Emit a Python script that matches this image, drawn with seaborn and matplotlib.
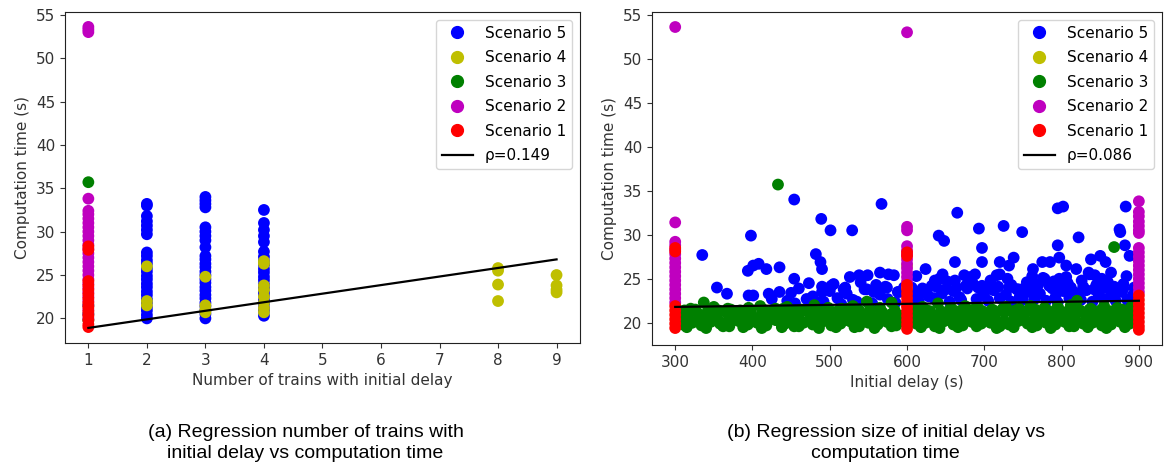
import matplotlib
matplotlib.use("Agg")
import matplotlib.pyplot as plt
import seaborn as sns
import pandas as pd
from matplotlib.lines import Line2D

# ---------------- Left panel data: number of trains vs computation time ----------------
a_s5_x = [2]*25 + [3]*26 + [4]*22
a_s5_y = [20.0, 20.4, 20.9, 21.3, 21.8, 22.2, 22.7, 23.1, 23.6, 24.0, 24.5, 24.9, 25.4, 25.8, 26.3, 26.7, 27.2, 27.6, 29.7, 30.2, 30.7, 31.2, 31.8, 33.0, 33.2,
          20.0, 20.5, 20.9, 21.4, 21.8, 22.3, 22.7, 23.2, 23.6, 24.1, 24.5, 25.0, 25.4, 25.9, 26.3, 26.8, 27.2, 28.2, 29.0, 29.5, 30.0, 30.5, 32.8, 33.2, 33.6, 34.0,
          20.3, 20.8, 21.2, 21.7, 22.1, 22.6, 23.0, 23.5, 23.9, 24.4, 24.8, 25.3, 25.7, 26.2, 26.6, 27.1, 27.7, 28.8, 29.5, 30.2, 31.0, 32.5]
a_s4_x = [2]*3 + [3]*4 + [4]*8 + [8]*4 + [9]*4
a_s4_y = [26.0, 22.0, 21.5,
          24.8, 21.5, 21.0, 20.7,
          26.3, 26.6, 23.8, 23.3, 22.5, 21.8, 21.2, 20.7,
          25.8, 25.5, 23.9, 22.0,
          25.0, 23.8, 23.3, 23.0]
a_s3_x = [1]*4
a_s3_y = [35.7, 21.5, 20.5, 19.8]
a_s2_x = [1]*30
a_s2_y = [53.6, 53.3, 53.0, 33.8, 32.4, 32.0, 31.5, 31.0, 30.5, 30.0, 29.5, 29.0, 28.5, 28.0, 27.5,
          27.0, 26.5, 26.0, 25.5, 25.0, 24.5, 24.0, 23.5, 23.0, 22.5, 22.0, 21.5, 21.0, 20.5, 20.0]
a_s1_x = [1]*14
a_s1_y = [28.3, 27.9, 24.3, 23.8, 23.3, 22.8, 22.3, 21.8, 21.3, 20.8, 20.3, 19.8, 19.3, 19.0]
a_reg_x = [1, 9]
a_reg_y = [18.9, 26.8]
a_rho = "ρ=0.149"

# ---------------- Right panel data: initial delay vs computation time ----------------
b_s5_x = [335, 354, 367, 398, 394, 401, 408, 418, 395, 401, 421, 435, 435, 454, 454, 473, 482, 488, 489, 490,
          501, 502, 490, 529, 526, 538, 549, 518, 567, 565, 576, 583, 574, 588, 557, 624, 617, 610, 641, 648,
          646, 636, 665, 662, 662, 674, 688, 693, 697, 697, 697, 725, 720, 738, 732, 720, 749, 763, 775, 785,
          795, 797, 795, 802, 822, 806, 819, 838, 850, 857, 864, 875, 876, 883, 882, 888, 843, 835, 797, 778,
          766, 749,
          445, 470, 492, 510, 530, 550, 575, 615, 635, 655, 670, 690, 705, 720, 735, 750, 765, 780, 795, 810,
          825, 840, 855, 870, 885,
          450, 478, 500, 522, 545, 565, 590, 625, 645, 660, 678, 700, 712, 728, 742, 758, 772, 788, 802, 818,
          832, 848, 862, 878, 892,
          505, 540, 560, 632, 652, 685, 708, 735, 755, 770, 790, 808, 826, 845, 860, 880, 425, 880,
          612, 628, 642, 668, 682, 698, 716, 730, 746, 762, 776, 792, 806, 822, 836, 852, 866, 884,
          455, 485, 515, 535, 555, 585,
          606, 620, 638, 650, 664, 676, 692, 704, 718, 732, 744, 756, 768, 784, 798, 812, 828, 842, 856, 868,
          880, 894, 460, 490, 520, 548, 572, 596]
b_s5_y = [27.7, 24.0, 23.3, 29.9, 25.9, 26.5, 26.7, 26.1, 23.1, 23.1, 23.3, 26.3, 23.5, 34.0, 25.0, 24.5, 27.8, 26.9, 31.8, 26.1,
          30.5, 24.2, 23.5, 30.5, 25.2, 25.4, 25.4, 23.8, 33.5, 25.7, 25.5, 25.4, 24.0, 23.5, 23.5, 26.1, 23.5, 22.9, 29.9, 29.3,
          25.5, 24.8, 32.5, 26.9, 24.8, 25.4, 25.5, 30.7, 28.5, 26.9, 24.2, 31.0, 26.9, 27.4, 26.5, 25.5, 30.3, 26.1, 26.9, 26.9,
          28.8, 27.4, 33.0, 33.2, 29.7, 26.5, 26.1, 27.2, 27.6, 26.9, 25.7, 30.6, 30.3, 33.2, 28.8, 27.6, 25.4, 25.7, 25.0, 25.0,
          24.2, 23.8,
          22.5, 22.7, 22.4, 22.8, 22.6, 22.3, 22.7, 22.5, 22.8, 22.4, 22.6, 22.7, 22.5, 22.8, 22.4, 22.6, 22.7, 22.5, 22.3, 22.8,
          22.6, 22.4, 22.7, 22.5, 22.6,
          23.4, 23.0, 23.6, 23.3, 23.8, 23.2, 23.5, 23.7, 23.3, 23.6, 23.9, 23.4, 23.7, 23.2, 23.8, 23.5, 23.3, 23.9, 23.6, 23.4,
          23.7, 23.2, 23.8, 23.5, 23.1,
          24.4, 24.6, 24.3, 24.2, 24.7, 24.5, 24.8, 24.3, 24.6, 24.4, 24.7, 24.5, 24.8, 24.3, 24.6, 24.4, 22.7, 20.4,
          25.3, 23.0, 25.0, 22.9, 25.2, 23.1, 25.4, 25.0, 23.0, 25.3, 25.1, 22.9, 25.2, 23.0, 25.5, 25.0, 23.1, 25.3,
          22.2, 22.3, 22.1, 22.4, 22.2, 22.3,
          24.0, 23.9, 24.1, 23.8, 24.0, 24.2, 24.0, 23.9, 24.1, 24.0, 23.8, 24.1, 24.0, 24.2, 23.9, 24.0, 24.1, 23.8, 24.0, 24.1,
          23.9, 24.0, 23.9, 24.1, 24.0, 23.8, 24.1, 24.0]
b_s4_x = [600, 600, 600]
b_s4_y = [26.5, 24.0, 22.0]
b_s3_x = [310, 322, 334, 346, 358, 370, 382, 394, 406, 418, 430, 442, 454, 466, 478, 490, 502, 514, 526, 538,
          550, 562, 574, 586, 612, 624, 636, 648, 660, 672, 684, 696, 708, 720, 732, 744, 756, 768, 780, 792,
          804, 816, 828, 840, 852, 864, 876, 888,
          316, 328, 340, 352, 364, 376, 388, 400, 412, 424, 436, 448, 460, 472, 484, 496, 508, 520, 532, 544,
          556, 568, 580, 592, 606, 618, 630, 642, 654, 666, 678, 690, 702, 714, 726, 738, 750, 762, 774, 786,
          798, 810, 822, 834, 846, 858, 870, 882, 894,
          320, 337, 350, 372, 395, 410, 430, 445, 463, 480, 498, 515, 530, 548, 565, 580, 620, 640, 658, 675,
          692, 710, 728, 745, 760, 778, 795, 812, 820, 838, 855, 872, 890,
          305, 318, 331, 344, 357, 370, 383, 396, 409, 422, 435, 448, 461, 474, 487, 500, 513, 526, 539, 552,
          565, 578, 591, 609, 622, 635, 648, 661, 674, 687, 700, 713, 726, 739, 752, 765, 778, 791, 804, 817,
          830, 843, 856, 869, 882, 895,
          312, 326, 342, 356, 368, 384, 398, 414, 426, 440, 456, 468, 482, 494, 510, 524, 538, 552, 566, 584,
          610, 626, 644, 656, 670, 686, 698, 712, 724, 740, 754, 766, 782, 796, 808, 824, 836, 850, 864, 878, 892,
          315, 340, 362, 388, 412, 438, 460, 486, 508, 532, 558, 580, 618, 642, 666, 690, 716, 738, 762, 786,
          810, 834, 858, 882,
          433, 868]
b_s3_y = [19.8, 20.0, 19.7, 20.1, 19.9, 19.6, 20.2, 19.8, 20.0, 19.7, 20.3, 19.9, 19.6, 20.0, 19.8, 20.1, 19.7, 19.9, 20.2, 19.6,
          20.0, 19.8, 20.1, 19.7, 19.9, 20.0, 19.6, 20.2, 19.8, 19.7, 20.1, 19.9, 20.0, 19.6, 19.8, 20.2, 19.9, 19.7, 20.0, 19.8,
          20.1, 19.6, 19.9, 20.0, 19.7, 19.8, 20.1, 19.9,
          20.9, 21.2, 20.7, 21.0, 21.3, 20.8, 21.1, 20.6, 21.0, 21.2, 20.8, 21.1, 20.9, 21.3, 20.7, 21.0, 21.2, 20.8, 21.1, 20.9,
          20.6, 21.2, 21.0, 20.8, 21.1, 20.9, 21.3, 20.7, 21.0, 21.2, 20.8, 21.1, 20.6, 20.9, 21.2, 21.0, 20.8, 21.3, 20.9, 21.1,
          20.7, 21.0, 21.2, 20.8, 21.1, 20.9, 21.0, 20.7, 21.2,
          21.6, 22.3, 21.8, 21.5, 21.7, 21.9, 21.6, 21.8, 21.5, 22.0, 21.7, 21.6, 21.9, 22.4, 21.7, 22.3, 21.8, 22.2, 21.6, 21.9,
          21.7, 21.5, 21.8, 21.6, 21.9, 21.7, 21.8, 22.0, 22.5, 21.6, 21.9, 21.7, 21.8,
          20.4, 20.3, 20.5, 20.4, 20.2, 20.5, 20.4, 20.3, 20.5, 20.4, 20.2, 20.5, 20.3, 20.4, 20.5, 20.3, 20.4, 20.2, 20.5, 20.4,
          20.3, 20.5, 20.4, 20.3, 20.5, 20.4, 20.2, 20.4, 20.5, 20.3, 20.4, 20.5, 20.2, 20.4, 20.3, 20.5, 20.4, 20.3, 20.5, 20.4,
          20.2, 20.4, 20.5, 20.3, 20.4, 20.5,
          21.4, 21.5, 21.3, 21.4, 21.6, 21.4, 21.3, 21.5, 21.4, 21.6, 21.3, 21.4, 21.5, 21.4, 21.3, 21.6, 21.4, 21.5, 21.3, 21.4,
          21.5, 21.4, 21.3, 21.6, 21.4, 21.5, 21.3, 21.4, 21.6, 21.4, 21.3, 21.5, 21.4, 21.6, 21.3, 21.4, 21.5, 21.4, 21.3, 21.5, 21.4,
          19.5, 19.4, 19.6, 19.5, 19.4, 19.5, 19.6, 19.4, 19.5, 19.5, 19.4, 19.6, 19.5, 19.4, 19.5, 19.6, 19.4, 19.5, 19.5, 19.4,
          19.6, 19.5, 19.4, 19.5,
          35.7, 28.6]
b_s2_x = [300]*17 + [600]*13 + [900]*18
b_s2_y = [53.6, 31.4, 29.2, 28.8, 28.3, 27.8, 27.3, 26.8, 26.3, 25.8, 25.3, 24.8, 24.3, 23.8, 23.3, 22.8, 22.3,
          53.0, 30.9, 30.5, 28.7, 28.2, 27.7, 27.2, 26.7, 26.2, 25.7, 25.2, 24.7, 24.2,
          33.8, 32.6, 32.1, 31.5, 31.0, 30.5, 30.2, 28.5, 28.0, 27.5, 27.0, 26.5, 26.0, 25.5, 25.0, 24.5, 24.0, 23.5]
b_s1_x = [300]*8 + [600]*13 + [900]*9
b_s1_y = [28.5, 28.1, 21.9, 21.4, 20.9, 20.4, 19.9, 19.4,
          28.0, 27.6, 24.3, 23.8, 23.3, 22.8, 22.3, 21.8, 21.3, 20.8, 20.3, 19.8, 19.3,
          23.1, 22.6, 22.1, 21.6, 21.1, 20.6, 20.1, 19.6, 19.2]
b_reg_x = [300, 900]
b_reg_y = [21.8, 22.5]
b_rho = "ρ=0.086"

scenario_names = ["Scenario 5", "Scenario 4", "Scenario 3", "Scenario 2", "Scenario 1"]
scenario_colors = ["b", "y", "g", "m", "r"]

plt.rcdefaults()
plt.rcParams["font.family"] = ["DejaVu Sans"]
plt.rcParams["font.size"] = 11

fig = plt.figure(figsize=(11.66, 4.69), dpi=100)
ax1 = fig.add_axes([0.0557, 0.2687, 0.4417, 0.706])
ax2 = fig.add_axes([0.5592, 0.2645, 0.4374, 0.7102])

left_sets = [(a_s5_x, a_s5_y), (a_s4_x, a_s4_y), (a_s3_x, a_s3_y), (a_s2_x, a_s2_y), (a_s1_x, a_s1_y)]
right_sets = [(b_s5_x, b_s5_y), (b_s4_x, b_s4_y), (b_s3_x, b_s3_y), (b_s2_x, b_s2_y), (b_s1_x, b_s1_y)]


def draw(ax, sets, reg_x, reg_y, rho, xlabel):
    handles = []
    for (xs, ys), name, col in zip(sets, scenario_names, scenario_colors):
        df = pd.DataFrame({"x": xs, "y": ys})
        sns.scatterplot(data=df, x="x", y="y", ax=ax, color=col, s=72,
                        linewidth=0, edgecolor="none", legend=False)
        handles.append(Line2D([], [], marker="o", linestyle="none", color=col,
                              markersize=8.5, label=name))
    reg = pd.DataFrame({"x": reg_x, "y": reg_y})
    sns.lineplot(data=reg, x="x", y="y", ax=ax, color="k", linewidth=1.6, legend=False)
    handles.append(Line2D([], [], color="k", linewidth=1.6, label=rho))
    ax.legend(handles=handles, loc="upper right", fontsize=11, framealpha=0.8,
              labelspacing=0.62, borderaxespad=0.5)
    ax.set_xlabel(xlabel, color="#333333", fontsize=11)
    ax.set_ylabel("Computation time (s)", color="#333333", fontsize=11)
    ax.tick_params(colors="#333333", labelcolor="#333333", labelsize=11)
    for sp in ax.spines.values():
        sp.set_color("#222222")


draw(ax1, left_sets, a_reg_x, a_reg_y, a_rho, "Number of trains with initial delay")
ax1.set_xticks(range(1, 10))
ax1.set_yticks(range(20, 56, 5))
draw(ax2, right_sets, b_reg_x, b_reg_y, b_rho, "Initial delay (s)")
ax2.set_xticks(range(300, 901, 100))
ax2.set_yticks(range(20, 56, 5))

cap_font = ["Liberation Sans", "DejaVu Sans"]
fig.text(0.262, 0.0554, "(a) Regression number of trains with\ninitial delay vs computation time",
         ha="center", va="center", fontsize=14, family=cap_font, linespacing=1.25)
fig.text(0.7595, 0.0554, "(b) Regression size of initial delay vs\ncomputation time",
         ha="center", va="center", fontsize=14, family=cap_font, linespacing=1.25)

fig.savefig("out.png", dpi=100)
